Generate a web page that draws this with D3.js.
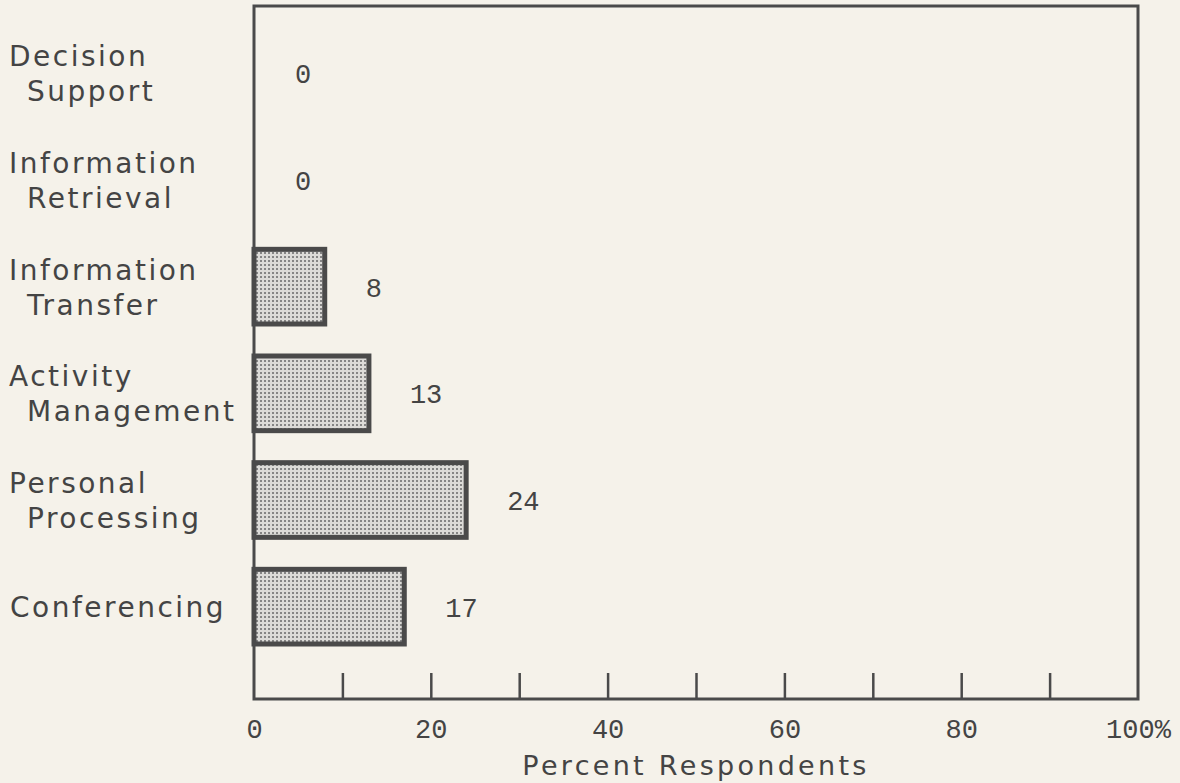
<!DOCTYPE html>
<html>
<head>
<meta charset="utf-8">
<script src="https://cdn.jsdelivr.net/npm/d3@7"></script>
<style>
  html, body { margin: 0; padding: 0; background: #f5f2ea; }
  svg { display: block; }
</style>
</head>
<body>
<svg id="chart" width="1180" height="783"></svg>
<script>
// ---- data ----
const categories = ["Decision Support", "Information Retrieval", "Information Transfer",
                    "Activity Management", "Personal Processing", "Conferencing"];
const labelLines = [["Decision", "Support"], ["Information", "Retrieval"], ["Information", "Transfer"],
                    ["Activity", "Management"], ["Personal", "Processing"], ["Conferencing"]];
const values = [0, 0, 8, 13, 24, 17];
const minorTicks = [10, 20, 30, 40, 50, 60, 70, 80, 90];
const tickLabels = [0, 20, 40, 60, 80, 100];
const axisTitle = "Percent Respondents";

// ---- layout ----
const W = 1180, H = 783;
const plot = { left: 254, right: 1138, top: 6, bottom: 699 };
const ink = "#4a4a4a";
const textInk = "#444";
const sansFont = "'DejaVu Sans', sans-serif";
const monoFont = "'Liberation Mono', 'DejaVu Sans Mono', monospace";

const svg = d3.select("#chart");

const defs = svg.append("defs");
const pat = defs.append("pattern").attr("id", "stip")
  .attr("patternUnits", "userSpaceOnUse").attr("width", 4).attr("height", 4);
pat.append("rect").attr("width", 4).attr("height", 4).attr("fill", "#dcdbd8");
pat.append("rect").attr("width", 2).attr("height", 2).attr("fill", "#858585");

const x = d3.scaleLinear().domain([0, 100]).range([plot.left, plot.right]);
const y = d3.scaleBand().domain(categories).range([20, 660]).paddingInner(0.3).paddingOuter(0.15);

// bars
svg.append("g").selectAll("rect").data(categories).join("rect")
  .filter((d, i) => values[i] > 0)
  .attr("x", x(0))
  .attr("y", d => y(d))
  .attr("width", d => x(values[categories.indexOf(d)]) - x(0))
  .attr("height", y.bandwidth())
  .attr("fill", "url(#stip)")
  .attr("stroke", ink)
  .attr("stroke-width", 5);

// frame
svg.append("rect")
  .attr("x", plot.left).attr("y", plot.top)
  .attr("width", plot.right - plot.left).attr("height", plot.bottom - plot.top)
  .attr("fill", "none").attr("stroke", ink).attr("stroke-width", 3);

// ticks (upward)
const tickAxis = d3.axisBottom(x).tickValues(minorTicks).tickSize(-26).tickFormat("");
const gt = svg.append("g").attr("transform", `translate(0,${plot.bottom})`).call(tickAxis);
gt.select(".domain").remove();
gt.selectAll(".tick line").attr("stroke", ink).attr("stroke-width", 2.5);

// tick labels
const labelAxis = d3.axisBottom(x).tickValues(tickLabels).tickSize(0).tickPadding(20)
  .tickFormat(d => d === 100 ? "100%" : String(d));
const gl = svg.append("g").attr("transform", `translate(0,${plot.bottom})`).call(labelAxis);
gl.select(".domain").remove();
gl.selectAll(".tick text")
  .attr("font-family", monoFont).attr("font-size", 27).attr("fill", textInk);

// value labels
svg.append("g").selectAll("text").data(categories).join("text")
  .attr("x", (d, i) => x(values[i]) + 41)
  .attr("y", d => y(d) + y.bandwidth() / 2 + 10)
  .attr("font-family", monoFont).attr("font-size", 27).attr("fill", textInk)
  .text((d, i) => values[i]);

// category labels
const cg = svg.append("g").selectAll("text").data(categories).join("text")
  .attr("font-family", sansFont).attr("font-size", 28).attr("letter-spacing", 2.5)
  .attr("fill", textInk);
cg.each(function (d, i) {
  const t = d3.select(this);
  const c = y(d) + y.bandwidth() / 2;
  const lines = labelLines[i];
  if (lines.length === 1) {
    t.append("tspan").attr("x", 10).attr("y", c + 10).text(lines[0]);
  } else {
    t.append("tspan").attr("x", 9).attr("y", c - 7).text(lines[0]);
    t.append("tspan").attr("x", 27).attr("y", c + 28).text(lines[1]);
  }
});

// axis title
svg.append("text")
  .attr("x", (plot.left + plot.right) / 2).attr("y", 775)
  .attr("text-anchor", "middle")
  .attr("font-family", sansFont).attr("font-size", 27).attr("letter-spacing", 3.3)
  .attr("fill", textInk)
  .text(axisTitle);
</script>
</body>
</html>
